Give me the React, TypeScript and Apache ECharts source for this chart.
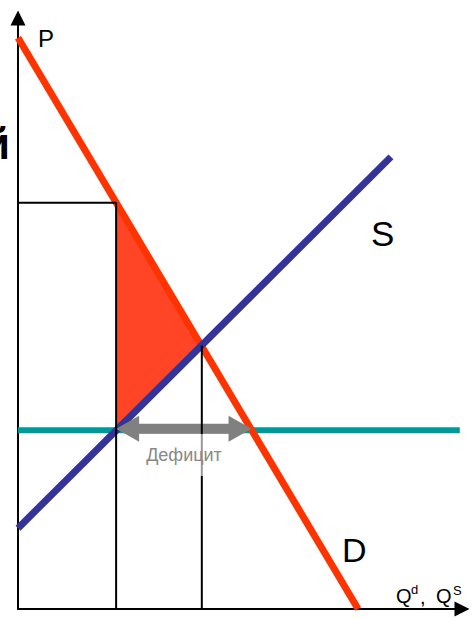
import React, { useEffect, useRef } from "react";
import * as echarts from "echarts";

// Quantity (Q) and price (P) values
const demandLine: [number, number][] = [[0, 11.6], [7.66, 0]];
const supplyLine: [number, number][] = [[0, 1.64], [8.4, 9.18]];
const ceilingPrice = 3.63;
const ceilingLineEnd = 9.95;
const quantitySupplied = 2.21;
const priceDemanded = 8.25;
const quantityEquilibrium = 4.14;
const priceEquilibrium = 5.35;
const quantityDemanded = 5.26;
const axisMaxQ = 10;
const axisMaxP = 12;

const labelP = "P";
const labelS = "S";
const labelD = "D";
const labelDeficit = "Дефицит";
const clippedChar = "й";

const FONT = "'Liberation Sans', Arial, sans-serif";

export default function App() {
  const ref = useRef<HTMLDivElement>(null);
  useEffect(() => {
    if (!ref.current) return;
    const chart = echarts.init(ref.current, null, { renderer: "svg" });
    const hiddenAxis = {
      type: "value" as const,
      min: 0,
      splitLine: { show: false },
      axisTick: { show: false },
      axisLabel: { show: false },
      axisLine: {
        show: true,
        symbol: ["none", "triangle"],
        symbolSize: [15, 15],
        lineStyle: { color: "#000", width: 2 },
      },
    };
    const txt = (text: string, x: number, y: number, size: number, extra: any = {}) => ({
      type: "text",
      z: 100,
      style: {
        text,
        x,
        y,
        font: `${extra.weight || "normal"} ${size}px ${FONT}`,
        fill: extra.fill || "#000",
        textAlign: extra.align || "left",
        textVerticalAlign: "middle",
        ...(extra.style || {}),
      },
    });
    chart.setOption({
      animation: false,
      grid: { left: 18, right: 10, top: 18, bottom: 9 },
      xAxis: { ...hiddenAxis, max: axisMaxQ },
      yAxis: { ...hiddenAxis, max: axisMaxP },
      series: [
        {
          type: "custom",
          z: 1,
          silent: true,
          data: [[quantitySupplied, ceilingPrice]],
          encode: { x: 0, y: 1 },
          renderItem: (_p: any, api: any) => {
            const pts = [
              api.coord([quantitySupplied, priceDemanded]),
              api.coord([quantityEquilibrium, priceEquilibrium]),
              api.coord([quantitySupplied, ceilingPrice]),
            ];
            return { type: "polygon", shape: { points: pts }, style: { fill: "#ff4526" } };
          },
        },
        {
          type: "line",
          z: 2,
          silent: true,
          symbol: "none",
          data: [[0, ceilingPrice], [ceilingLineEnd, ceilingPrice]],
          lineStyle: { color: "#009999", width: 6 },
        },
        {
          type: "line",
          z: 3,
          silent: true,
          symbol: "none",
          data: demandLine,
          lineStyle: { color: "#ff3300", width: 7 },
        },
        {
          type: "line",
          z: 4,
          silent: true,
          symbol: "none",
          data: supplyLine,
          lineStyle: { color: "#333399", width: 7 },
        },
        {
          type: "custom",
          z: 5,
          silent: true,
          data: [[quantitySupplied, ceilingPrice]],
          encode: { x: 0, y: 1 },
          renderItem: (_p: any, api: any) => {
            const l = api.coord([quantitySupplied, ceilingPrice]);
            const r = api.coord([quantityDemanded, ceilingPrice]);
            const y = l[1] - 1.5;
            const hl = 23, hh = 13, sh = 5;
            const pts = [
              [l[0], y], [l[0] + hl, y - hh], [l[0] + hl, y - sh],
              [r[0] - hl, y - sh], [r[0] - hl, y - hh], [r[0], y],
              [r[0] - hl, y + hh], [r[0] - hl, y + sh], [l[0] + hl, y + sh],
              [l[0] + hl, y + hh],
            ];
            return { type: "polygon", shape: { points: pts }, style: { fill: "#808080" } };
          },
        },
        {
          type: "line",
          z: 6,
          silent: true,
          symbol: "none",
          data: [[0, priceDemanded], [quantitySupplied, priceDemanded], [quantitySupplied, 0]],
          lineStyle: { color: "#000", width: 2 },
        },
        {
          type: "line",
          z: 6,
          silent: true,
          symbol: "none",
          data: [[quantityEquilibrium, priceEquilibrium], [quantityEquilibrium, 0]],
          lineStyle: { color: "#000", width: 2 },
        },
      ],
      graphic: [
        txt(clippedChar, -17, 143, 44, { weight: "bold" }),
        txt(labelP, 38, 38, 24),
        txt(labelS, 371, 233, 35),
        txt(labelD, 342, 550, 34),
        txt("Q", 396, 596, 20),
        txt("d", 411, 589, 13),
        txt(",", 420, 597, 20),
        txt("Q", 436, 596, 20),
        txt("S", 453, 590, 13),
        txt(labelDeficit, 184, 455, 18, {
          align: "center",
          fill: "#888",
          style: { backgroundColor: "rgba(255,255,255,0.6)", padding: [11, 1, 13, 1] },
        }),
      ],
    });
    return () => chart.dispose();
  }, []);
  return (
    <div
      ref={ref}
      style={{ position: "fixed", left: 0, top: 0, width: 472, height: 618, background: "#fff" }}
    />
  );
}
